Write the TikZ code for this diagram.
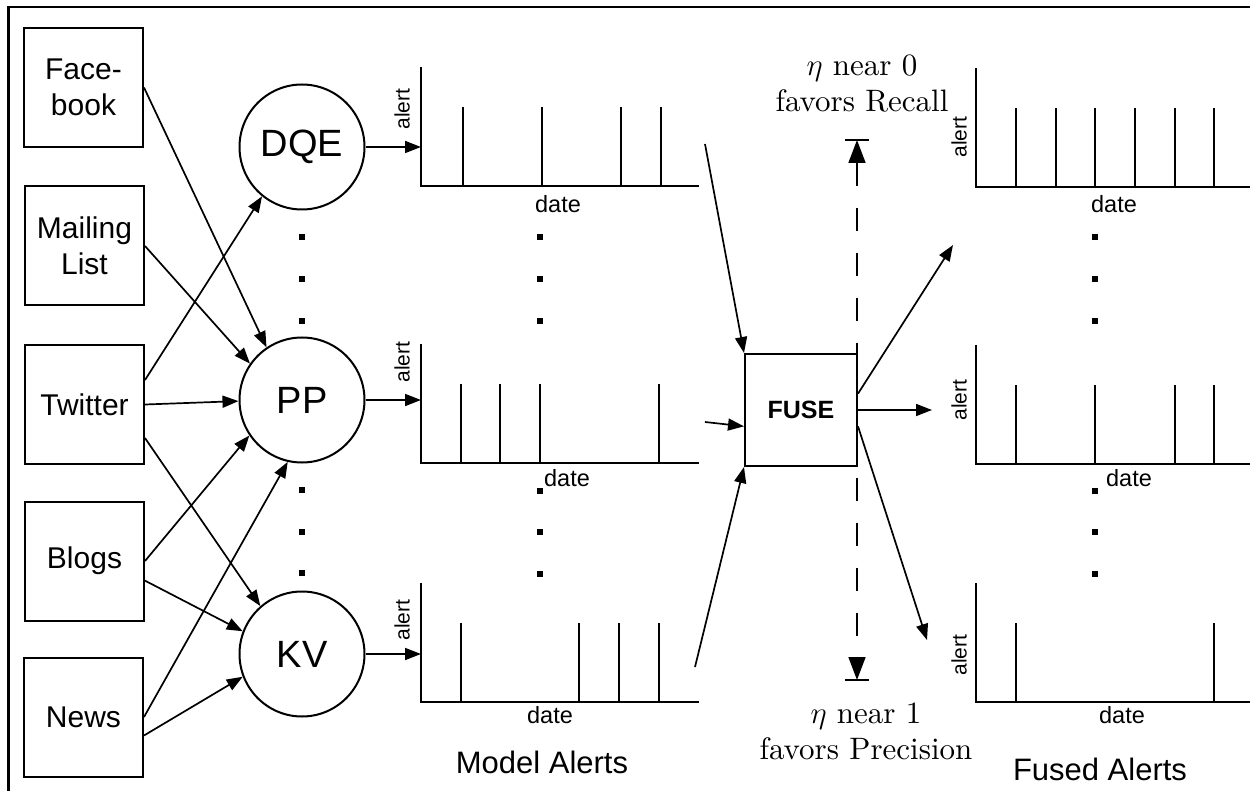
\documentclass[tikz,border=0pt]{standalone}
\usepackage{fix-cm}
\usepackage{fontspec}
\setsansfont{Liberation Sans}
\newfontfamily\etafamily{lmroman10-regular.otf}
\usetikzlibrary{arrows.meta}

% axis pair with a row of alert spikes: x of axis, y of baseline, x of axis end, spike positions
\newcommand\alertchart[4]{%
  \draw[axisline] (#1,#2-119) -- (#1,#2) -- (#3,#2);
  \foreach \sx in {#4} \draw[axisline] (\sx,#2) -- (\sx,#2-79);
}
% small square used for the vertical ellipsis
\newcommand\sqdot[2]{\fill (#1-3,#2-3) rectangle (#1+3,#2+3);}

\tikzset{
  srcbox/.style={draw, line width=2pt, minimum width=119pt, minimum height=119pt,
    inner sep=0pt, align=center, font=\sffamily\fontsize{30}{36}\selectfont},
  modelnode/.style={circle, draw, line width=2pt, minimum size=125pt, inner sep=0pt,
    font=\sffamily\fontsize{38}{46}\selectfont},
  fusebox/.style={draw, line width=2pt, minimum width=112pt, minimum height=112pt,
    inner sep=0pt, font=\sffamily\bfseries\fontsize{25}{30}\selectfont},
  arr/.style={line width=1.7pt, -{Triangle[length=16pt,width=12pt]}},
  etaarr/.style={line width=1.7pt, dash pattern=on 23pt off 22pt,
    {Triangle[length=23pt,width=17pt]}-{Triangle[length=23pt,width=17pt]}},
  axisline/.style={line width=2pt},
  frameline/.style={line width=2.5pt},
  alertlbl/.style={rotate=90, inner sep=0pt, font=\sffamily\fontsize{21}{25}\selectfont},
  datelbl/.style={anchor=base, inner sep=0pt, font=\sffamily\fontsize{23.5}{28}\selectfont},
  titlelbl/.style={anchor=base, inner sep=0pt, font=\sffamily\fontsize{31}{37}\selectfont},
  etalbl/.style={align=center, anchor=north, inner sep=0pt, font=\etafamily\fontsize{31}{36}\selectfont}
}

\begin{document}
\begin{tikzpicture}[x=1pt, y=-1pt]
\useasboundingbox (0,0) rectangle (1250,791);

% outer frame
\begin{scope}
  \clip (0,0) rectangle (1250,791);
  \draw[frameline] (8.5,7) rectangle (1300,850);
\end{scope}

% data sources
\node[srcbox] (fb) at (83.5,87.5) {Face-\\book};
\node[srcbox] (ml) at (84.5,246) {Mailing\\List};
\node[srcbox] (tw) at (84.5,404.5) {Twitter};
\node[srcbox] (bl) at (84.5,561) {Blogs};
\node[srcbox] (nw) at (83.5,717) {News};

% models
\node[modelnode] (dqe) at (302,147) {DQE};
\node[modelnode] (pp)  at (302,400) {PP};
\node[modelnode] (kv)  at (302,654) {KV};
\foreach \y in {237,279,321,490,532,573} { \sqdot{302}{\y} }

% sources feeding models
\draw[arr] (fb.east) -- (pp.124);
\draw[arr] (ml.east) -- (pp.145);
\draw[arr] (tw.22) -- (dqe.231);
\draw[arr] (tw.east) -- (pp.181);
\draw[arr] (tw.-29) -- (kv.131);
\draw[arr] (bl.east) -- (pp.214);
\draw[arr] (bl.-18) -- (kv.159);
\draw[arr] (nw.east) -- (pp.257);
\draw[arr] (nw.-17) -- (kv.201);

% model alert charts
\coordinate (m1) at (421,147);
\coordinate (m2) at (421,400);
\coordinate (m3) at (421,654);
\alertchart{421}{186}{699}{463,542,621,661}
\alertchart{421}{463}{699}{461,500,540,659}
\alertchart{421}{702}{699}{461,579,619,659}
\draw[arr] (dqe) -- (m1);
\draw[arr] (pp) -- (m2);
\draw[arr] (kv) -- (m3);
\node[alertlbl] at (402,109) {alert};
\node[alertlbl] at (402,362) {alert};
\node[alertlbl] at (402,620) {alert};
\node[datelbl] at (558,213) {date};
\node[datelbl] at (567,486) {date};
\node[datelbl] at (550,723) {date};
\foreach \y in {237,279,321,491,532,574} { \sqdot{540}{\y} }
\node[titlelbl] at (542,773) {Model Alerts};

% fusion
\node[fusebox] (fuse) at (801,410) {FUSE};
\coordinate (fin1) at (705,144);
\coordinate (fin2) at (705,422);
\coordinate (fin3) at (695,667);
\coordinate (fout1) at (953,245);
\coordinate (fout2) at (932,410);
\coordinate (fout3) at (927,640);
\draw[arr] (fin1) -- (fuse.north west);
\draw[arr] (fin2) -- (fuse.196);
\draw[arr] (fin3) -- (fuse.south west);
\draw[arr] (fuse.16) -- (fout1);
\draw[arr] (fuse.east) -- (fout2);
\draw[arr] (fuse.-16) -- (fout3);

% eta range
\coordinate (etaHi) at (857,140);
\coordinate (etaLo) at (857,680);
\draw[etaarr] (etaHi) -- (etaLo);
\draw[line width=1.7pt] ([xshift=-12pt]etaHi) -- ([xshift=12pt]etaHi);
\draw[line width=1.7pt] ([xshift=-12pt]etaLo) -- ([xshift=12pt]etaLo);
\node[etalbl] at (862,55) {$\eta$ near 0\\favors Recall};
\node[etalbl] at (866,703) {$\eta$ near 1\\favors Precision};

% fused alert charts
\alertchart{976}{187}{1260}{1016,1056,1095,1135,1175,1214}
\alertchart{976}{464}{1260}{1016,1095,1175,1214}
\alertchart{976}{702}{1260}{1016,1214}
\node[alertlbl] at (959,137) {alert};
\node[alertlbl] at (959,400) {alert};
\node[alertlbl] at (959,655) {alert};
\node[datelbl] at (1114,213) {date};
\node[datelbl] at (1129,486) {date};
\node[datelbl] at (1122,723) {date};
\foreach \y in {237,279,321,491,532,574} { \sqdot{1095}{\y} }
\node[titlelbl] at (1100,780) {Fused Alerts};
\end{tikzpicture}
\end{document}
